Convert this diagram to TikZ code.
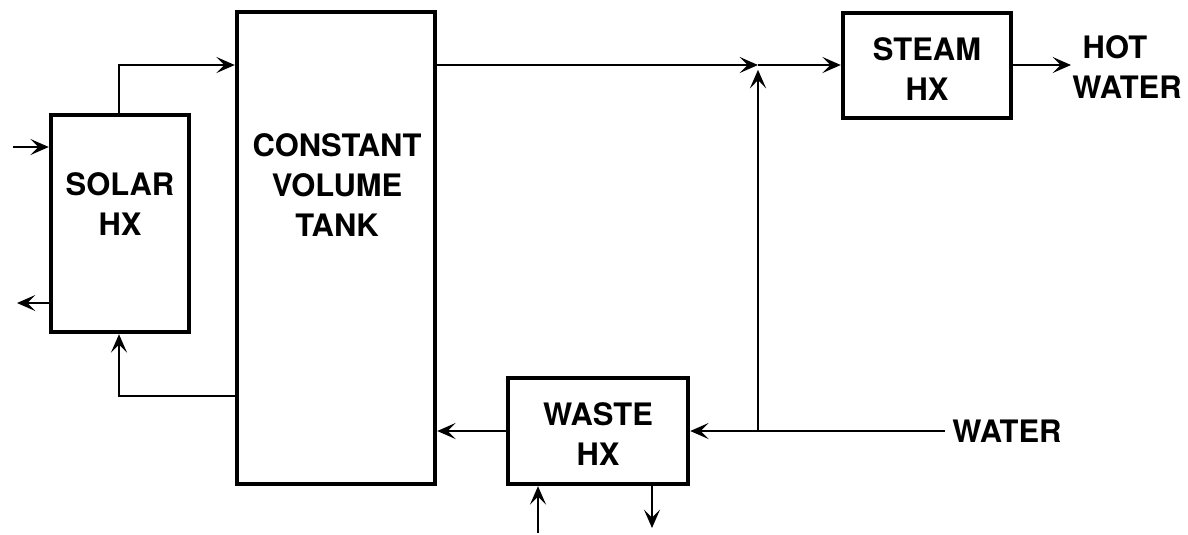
\documentclass[tikz,border=0pt]{standalone}
\usepackage{fontspec}
\setmainfont{TeX Gyre Heros}
\usepackage{tikz}
\usetikzlibrary{positioning,arrows.meta}

\begin{document}
\begin{tikzpicture}[
    x=0.25mm, y=-0.25mm,
    hxblock/.style={rectangle, draw=black, line width=1.1mm, inner sep=0pt},
    tag/.style={align=center, font=\fontsize{22}{28.5}\selectfont\bfseries, inner sep=0pt},
    flow/.style={line width=0.65mm, -{Stealth[length=4.6mm,width=4mm,inset=2mm]}}
]
\useasboundingbox (0,0) rectangle (1188,534);

% Define main blocks
\node [hxblock, minimum width=34.5mm, minimum height=54.25mm] (solar) at (120,223.5) {};
\node [hxblock, minimum width=49.5mm, minimum height=118mm] (tank) at (336,248) {};
\node [hxblock, minimum width=42mm, minimum height=26.25mm] (steam) at (927,65.5) {};
\node [hxblock, minimum width=45mm, minimum height=26.5mm] (waste) at (598,431) {};

% Block texts
\node [tag] (solarlbl) at (120,204) {SOLAR\\HX};
\node [tag] (tanklbl) at (337,185) {CONSTANT\\VOLUME\\TANK};
\node [tag] (steamlbl) at (927,69) {STEAM\\HX};
\node [tag] (wastelbl) at (598,434) {WASTE\\HX};
\node [tag] (hotwater) at (1127,67.5) {HOT\hspace*{6mm}\\WATER};
\node [tag, anchor=west, inner xsep=1.75mm] (water) at (945,431) {WATER};

% Free ends and junctions
\coordinate (solarin) at (13,147);
\coordinate (solarout) at (17,303);
\coordinate (ret) at (119,396);
\coordinate (join) at (758,65);
\coordinate (split) at (758,431);
\coordinate (wastein) at (538,533);
\coordinate (wasteout) at (652,528);
\coordinate (hotout) at (1071,65);

% Solar loop
\draw [flow] (solarin) -- (solar.west |- solarin);
\draw [flow] (solar.west |- solarout) -- (solarout);
\draw [flow] (solar.north -| ret) |- (tank.west |- join);
\draw [flow] (tank.west |- ret) -- (ret) -- (solar.south -| ret);

% Supply line to steam HX
\draw [flow] (tank.east |- join) -- (join);
\draw [flow] (join) -- (steam.west |- join);
\draw [flow] (steam.east |- join) -- (hotout);
\draw [flow, shorten >=1.2mm] (split) -- (join);

% Water through waste HX
\draw [flow] (water.west) -- (waste.east);
\draw [flow] (waste.west) -- (tank.east |- waste.west);
\draw [flow] (wastein) -- (waste.south -| wastein);
\draw [flow] (waste.south -| wasteout) -- (wasteout);

\end{tikzpicture}
\end{document}
